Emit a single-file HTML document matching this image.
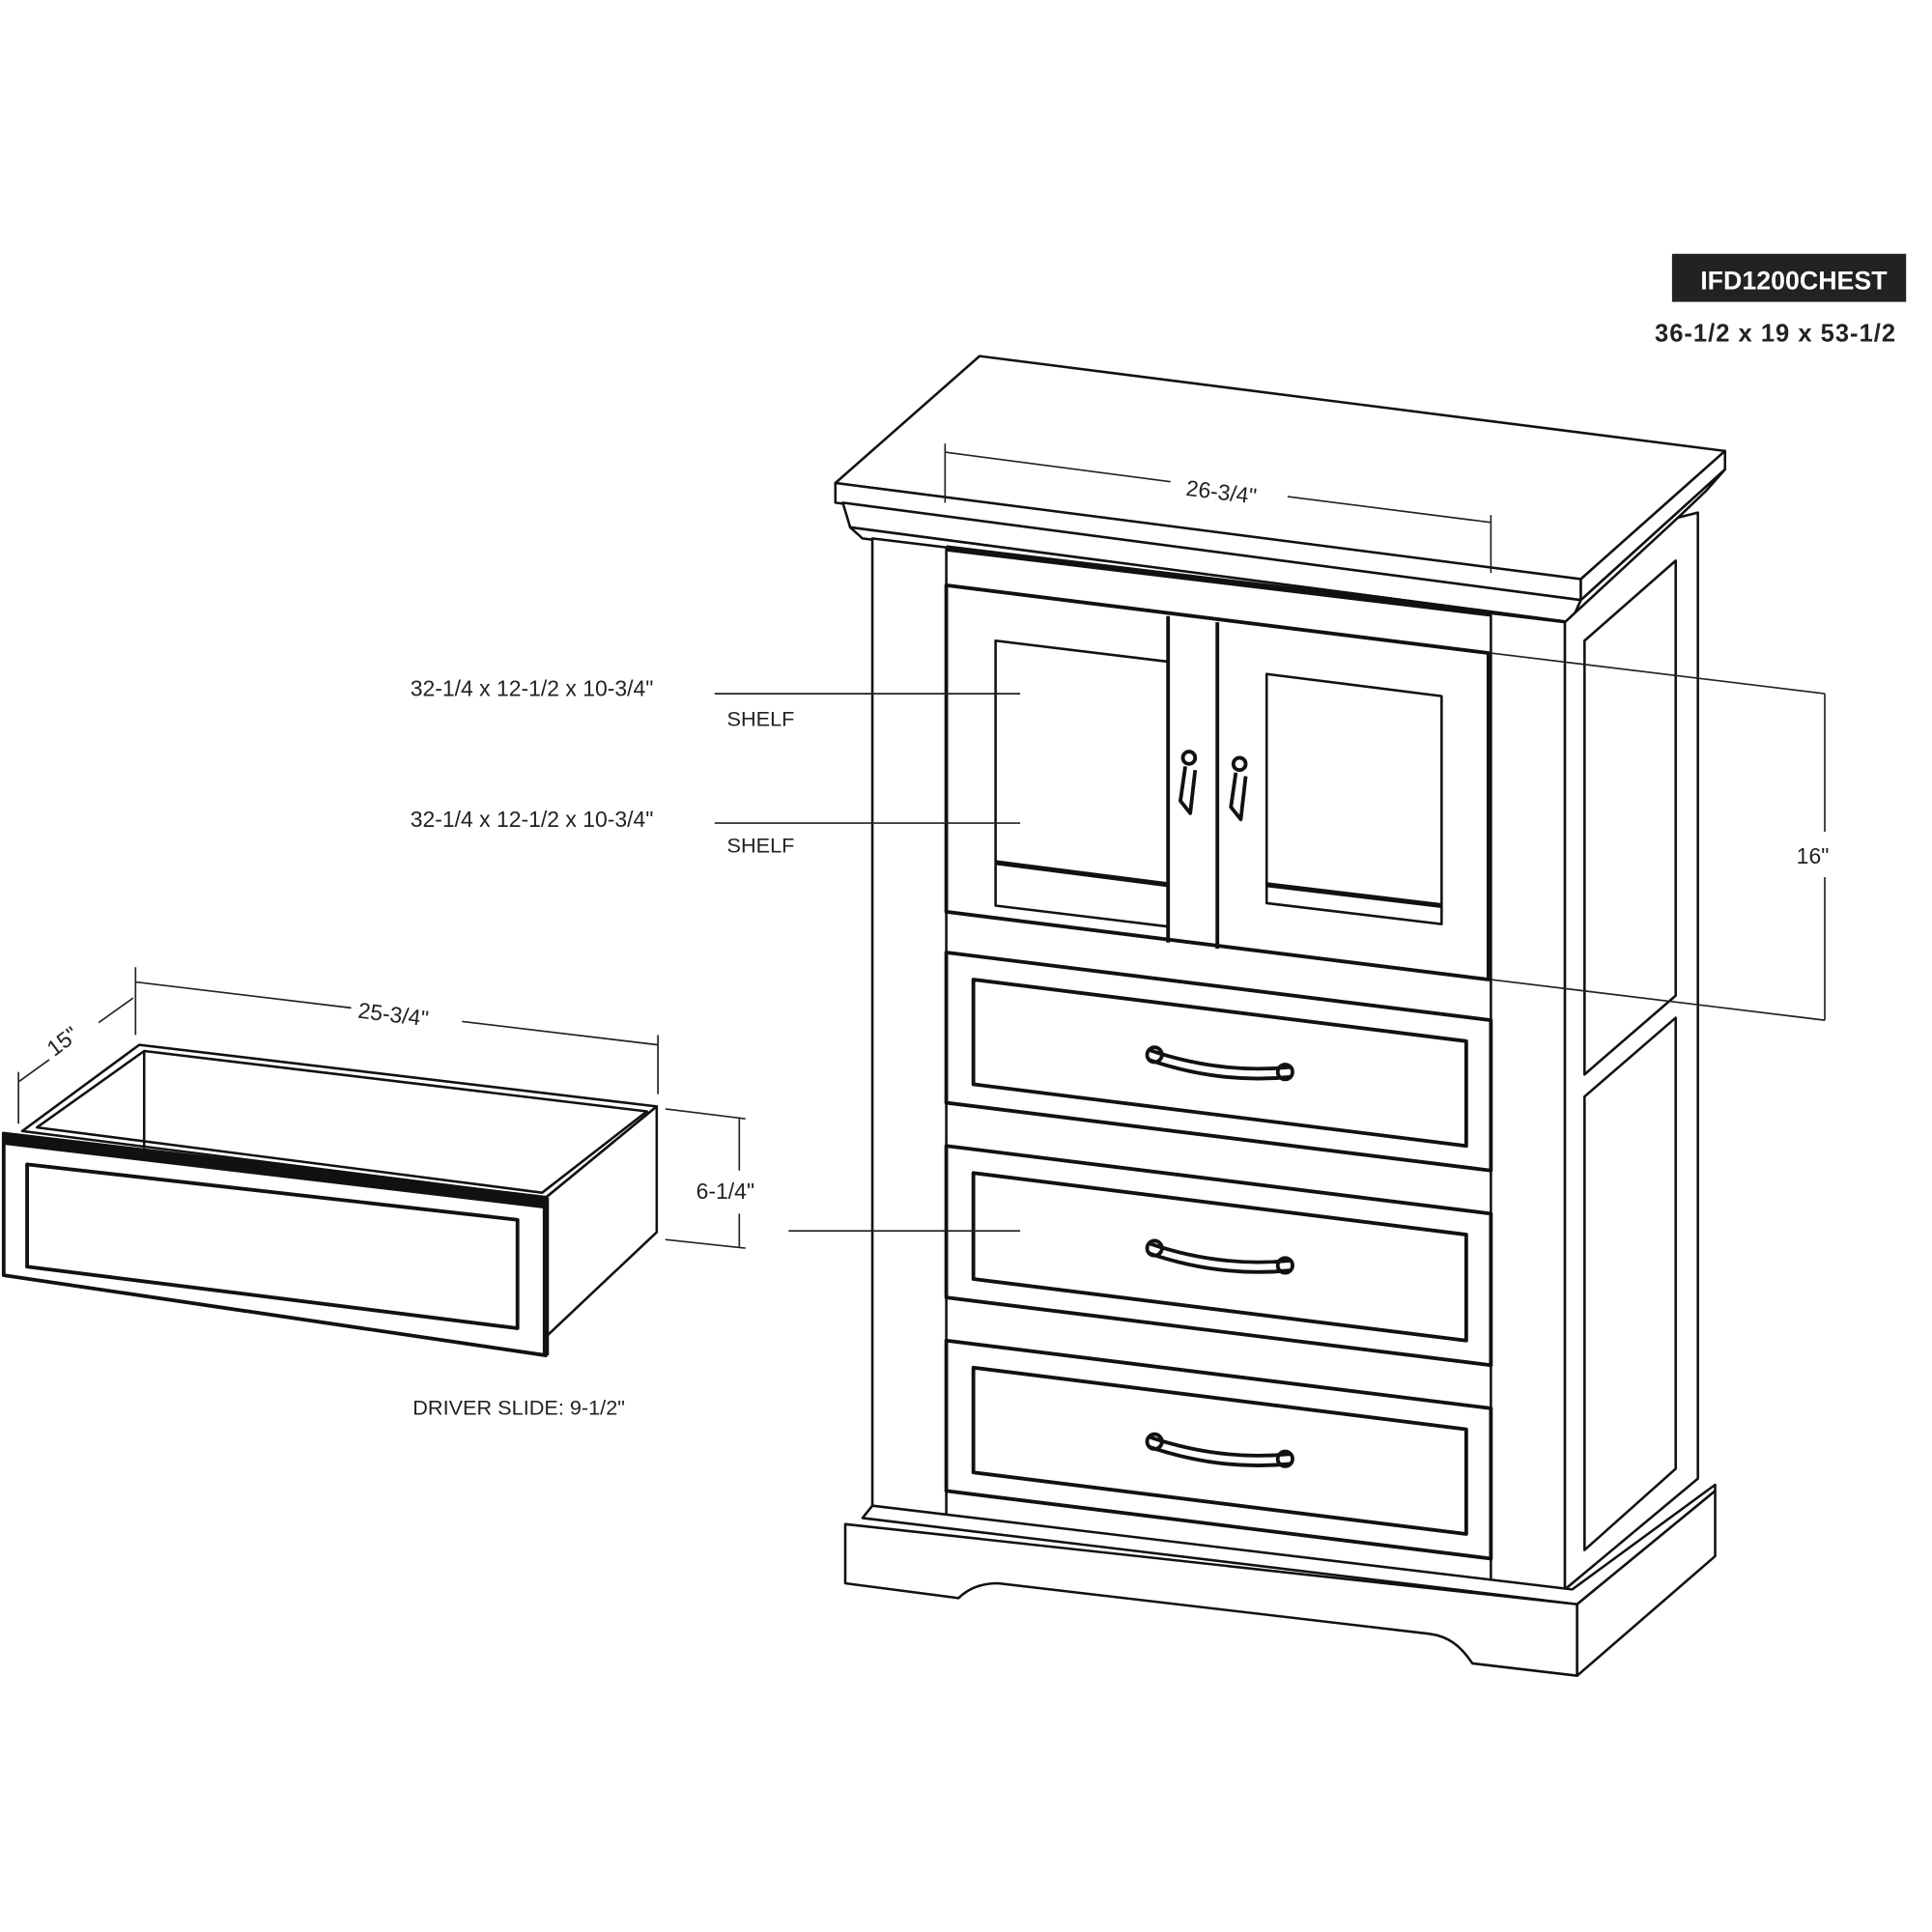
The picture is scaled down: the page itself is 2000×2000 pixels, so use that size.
<!DOCTYPE html>
<html><head><meta charset="utf-8"><style>
html,body{margin:0;padding:0;background:#fff}
svg{display:block}
text{font-family:"Liberation Sans",sans-serif;fill:#222}
</style></head><body>
<svg width="2000" height="2000" viewBox="0 0 1568 1568" xmlns="http://www.w3.org/2000/svg">
<g fill="#fff" stroke="#111" stroke-width="2" stroke-linejoin="round">
<rect x="1357" y="206" width="190" height="39" fill="#222" stroke="none"/>
<polygon points="678,392 795,289 1400,366 1283,470"/>
<polygon points="678,392 678,408 1283,487 1283,470"/>
<polygon points="1283,470 1400,366 1400,381 1283,487"/>
<polygon points="684,408 1283,487 1275,505 690,428" />
<polygon points="690,428 1275,505 1270,510 700,437"/>
<polygon points="1283,487 1400,381 1385,398 1362,420 1275,505"/>
<polygon points="1270,505 1362,420 1378,416 1378,1200 1270,1290"/>
<polygon points="1286,520 1360,455 1360,808 1286,872"/>
<polygon points="1286,890 1360,826 1360,1192 1286,1258"/>
<polygon points="708,437 1270,505 1270,1290 708,1225"/>
<line x1="768" y1="445" x2="768" y2="1232"/>
<line x1="1210" y1="498" x2="1210" y2="1284"/>
<line x1="768" y1="445" x2="1210" y2="498" stroke-width="5"/>
<polygon points="768,475 1208,530 1208,795 768,740" stroke-width="3"/>
<polygon points="808,520 948,537 948,752 808,735"/>
<polygon points="1028,547 1170,565 1170,750 1028,733"/>
<line x1="808" y1="700" x2="948" y2="718" stroke-width="4"/>
<line x1="1028" y1="718" x2="1170" y2="735" stroke-width="4"/>
<line x1="948" y1="500" x2="948" y2="765" stroke-width="3"/>
<line x1="988" y1="505" x2="988" y2="770" stroke-width="3"/>
<polygon points="768,773 1210,828 1210,950 768,895" stroke-width="3"/>
<polygon points="790,795 1190,845 1190,930 790,880" stroke-width="3"/>
<polygon points="768,930 1210,985 1210,1108 768,1053" stroke-width="3"/>
<polygon points="790,952 1190,1002 1190,1088 790,1038" stroke-width="3"/>
<polygon points="768,1088 1210,1143 1210,1265 768,1210" stroke-width="3"/>
<polygon points="790,1110 1190,1160 1190,1245 790,1195" stroke-width="3"/>
<polygon points="708,1222 1276,1290 1392,1205 1392,1210 1280,1302 700,1232"/>
<path d="M686,1237 L1280,1302 L1280,1360 L1195,1350 C1185,1335 1175,1328 1160,1326 L810,1285 C795,1285 785,1290 778,1297 L686,1285 Z"/>
<polygon points="1280,1302 1392,1210 1392,1263 1280,1360"/>
<g stroke-width="3" fill="none">
<path d="M932,852 Q990,872 1048,866 M932,860 Q990,880 1048,874"/>
<circle cx="937" cy="856" r="6"/><circle cx="1043" cy="870" r="6"/>
<path d="M932,1009 Q990,1029 1048,1023 M932,1017 Q990,1037 1048,1031"/>
<circle cx="937" cy="1013" r="6"/><circle cx="1043" cy="1027" r="6"/>
<path d="M932,1166 Q990,1186 1048,1180 M932,1174 Q990,1194 1048,1188"/>
<circle cx="937" cy="1170" r="6"/><circle cx="1043" cy="1184" r="6"/>
<circle cx="965" cy="615" r="5"/><path d="M962,622 L958,650 L966,660 L970,625"/>
<circle cx="1006" cy="620" r="5"/><path d="M1003,627 L999,655 L1007,665 L1011,630"/>
<path d="M165,1003 Q222,1020 280,1018 M165,1011 Q222,1028 280,1026"/>
<circle cx="170" cy="1007" r="6"/><circle cx="275" cy="1022" r="6"/>
</g>
<polygon points="18,918 113,848 533,898 443,972"/>
<polygon points="30,915 117,853 525,902 440,968"/>
<line x1="117" y1="853" x2="117" y2="932"/>
<polygon points="443,972 533,898 533,1000 443,1085"/>
<polygon points="3,920 443,972 443,1100 3,1035" stroke-width="3"/>
<polygon points="3,920 443,972 443,980 3,928" fill="#111"/>
<polygon points="22,945 420,990 420,1078 22,1028" stroke-width="3"/>
<line x1="443" y1="972" x2="443" y2="1100" stroke-width="5"/>
</g>
<g stroke="#222" stroke-width="1.3" fill="none">
<line x1="767" y1="367" x2="950" y2="391"/><line x1="1045" y1="403" x2="1210" y2="424"/>
<line x1="767" y1="360" x2="767" y2="408"/><line x1="1210" y1="418" x2="1210" y2="465"/>
<line x1="1210" y1="530" x2="1481" y2="563"/><line x1="1210" y1="795" x2="1481" y2="828"/>
<line x1="1481" y1="563" x2="1481" y2="675"/><line x1="1481" y1="712" x2="1481" y2="828"/>
<line x1="580" y1="563" x2="828" y2="563"/><line x1="580" y1="668" x2="828" y2="668"/>
<line x1="640" y1="999" x2="828" y2="999"/>
<line x1="110" y1="797" x2="285" y2="818"/><line x1="375" y1="829" x2="534" y2="848"/>
<line x1="110" y1="785" x2="110" y2="840"/><line x1="534" y1="840" x2="534" y2="888"/>
<line x1="15" y1="878" x2="40" y2="860"/><line x1="80" y1="830" x2="108" y2="810"/>
<line x1="15" y1="870" x2="15" y2="912"/>
<line x1="540" y1="900" x2="605" y2="908"/><line x1="540" y1="1006" x2="605" y2="1013"/>
<line x1="600" y1="908" x2="600" y2="950"/><line x1="600" y1="985" x2="600" y2="1012"/>
</g>
<g font-size="18">
<text x="1380" y="235" font-weight="bold" font-size="21" style="fill:#fff">IFD1200CHEST</text>
<text x="1343" y="277" font-weight="bold" font-size="20" letter-spacing="0.8">36-1/2 x 19 x 53-1/2</text>
<text x="962" y="402" transform="rotate(7 962 402)">26-3/4"</text>
<text x="1458" y="701">16"</text>
<text x="333" y="565">32-1/4 x 12-1/2 x 10-3/4"</text>
<text x="590" y="589" font-size="17">SHELF</text>
<text x="333" y="671">32-1/4 x 12-1/2 x 10-3/4"</text>
<text x="590" y="692" font-size="17">SHELF</text>
<text x="290" y="826" transform="rotate(7 290 826)">25-3/4"</text>
<text x="44" y="858" transform="rotate(-37 44 858)">15"</text>
<text x="565" y="973">6-1/4"</text>
<text x="335" y="1148" font-size="17">DRIVER SLIDE: 9-1/2"</text>
</g>
</svg>
</body></html>
